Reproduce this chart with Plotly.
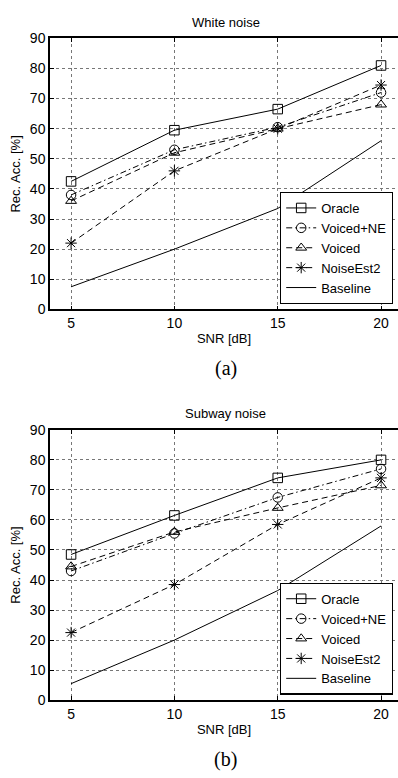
import plotly.graph_objects as go

snr = [5, 10, 15, 20]
series_names = ["Oracle", "Voiced+NE", "Voiced", "NoiseEst2", "Baseline"]

white_oracle = [42.5, 59.5, 66.5, 81.0]
white_voiced_ne = [38.0, 53.0, 60.5, 72.0]
white_voiced = [36.0, 52.0, 60.0, 68.0]
white_noiseest2 = [22.0, 46.0, 60.0, 74.5]
white_baseline = [7.5, 20.0, 33.5, 56.0]

subway_oracle = [48.5, 61.5, 74.0, 80.0]
subway_voiced_ne = [43.0, 55.5, 67.5, 77.0]
subway_voiced = [44.5, 56.0, 64.0, 71.5]
subway_noiseest2 = [22.5, 38.5, 58.5, 74.0]
subway_baseline = [5.5, 20.0, 36.5, 58.0]

x_ticks = [5, 10, 15, 20]
y_ticks = [0, 10, 20, 30, 40, 50, 60, 70, 80, 90]

styles = [
    dict(symbol="square-open", dash="solid", mode="lines+markers"),
    dict(symbol="circle-open", dash="6px,3px,1.5px,3px", mode="lines+markers"),
    dict(symbol="triangle-up-open", dash="6px,4px", mode="lines+markers"),
    dict(symbol="asterisk-open", dash="6px,4px", mode="lines+markers"),
    dict(symbol="circle", dash="solid", mode="lines"),
]

FONT = "Liberation Sans, Arial, sans-serif"
fig = go.Figure()

datasets = [
    ([white_oracle, white_voiced_ne, white_voiced, white_noiseest2, white_baseline], "x", "y", "legend"),
    ([subway_oracle, subway_voiced_ne, subway_voiced, subway_noiseest2, subway_baseline], "x2", "y2", "legend2"),
]
for vals, xa, ya, lg in datasets:
    for name, v, st in zip(series_names, vals, styles):
        fig.add_trace(go.Scatter(
            x=snr, y=v, name=name, mode=st["mode"], xaxis=xa, yaxis=ya, legend=lg,
            line=dict(color="black", width=1, dash=st["dash"]),
            marker=dict(symbol=st["symbol"], size=9.5, color="black", line=dict(width=1, color="black")),
        ))

W, H = 398, 778
L = 50
def py(pix):
    return 1 - pix / H
def px(pix):
    return (pix - L) / (W - L)

xr = [3.98, 20.82]
axis_common = dict(
    showline=True, linecolor="black", linewidth=1.5,
    ticks="inside", ticklen=4, tickcolor="black",
    showgrid=True, gridcolor="#777", griddash="dot", gridwidth=1,
    zeroline=False, tickfont=dict(family=FONT, size=14, color="black"),
)
legend_common = dict(xanchor="right", yanchor="bottom", bordercolor="black", borderwidth=1.2,
                     bgcolor="white", itemwidth=30, tracegroupgap=0,
                     font=dict(family=FONT, size=13, color="black"))
fig.update_layout(
    width=W, height=H, margin=dict(l=L, r=0, t=0, b=0),
    plot_bgcolor="white", paper_bgcolor="white",
    xaxis=dict(axis_common, domain=[0, 1], range=xr, tickvals=x_ticks, mirror="ticks", anchor="y",
               title=dict(text="SNR [dB]", font=dict(family=FONT, size=13, color="black"), standoff=4)),
    yaxis=dict(axis_common, domain=[py(307.7), py(31)], range=[0, 90], tickvals=y_ticks, anchor="x",
               title=dict(text="Rec. Acc. [%]", font=dict(family=FONT, size=13, color="black"), standoff=6)),
    xaxis2=dict(axis_common, domain=[0, 1], range=xr, tickvals=x_ticks, mirror="ticks", anchor="y2",
                title=dict(text="SNR [dB]", font=dict(family=FONT, size=13, color="black"), standoff=4)),
    yaxis2=dict(axis_common, domain=[py(706.7), py(430.7)], range=[0, 90], tickvals=y_ticks, anchor="x2",
                title=dict(text="Rec. Acc. [%]", font=dict(family=FONT, size=13, color="black"), standoff=6)),
    legend=dict(legend_common, x=px(393), y=py(302)),
    legend2=dict(legend_common, x=px(393), y=py(701)),
)

cx = px(225.5)
annots = [
    ("White noise", cx, py(15), 13, FONT),
    ("Subway noise", cx, py(414), 13, FONT),
    ("(a)", cx, py(368), 20, "Liberation Serif, Times New Roman, serif"),
    ("(b)", cx, py(767), 20, "Liberation Serif, Times New Roman, serif"),
]
for t, x, y, s, f in annots:
    fig.add_annotation(text=t, x=x, y=y, xref="paper", yref="paper", showarrow=False,
                       xanchor="center", yanchor="middle", font=dict(family=f, size=s, color="black"))

fig.write_html("out.html", config={"displayModeBar": False},
               post_script="document.body.style.margin='0';document.body.style.overflow='hidden';")
